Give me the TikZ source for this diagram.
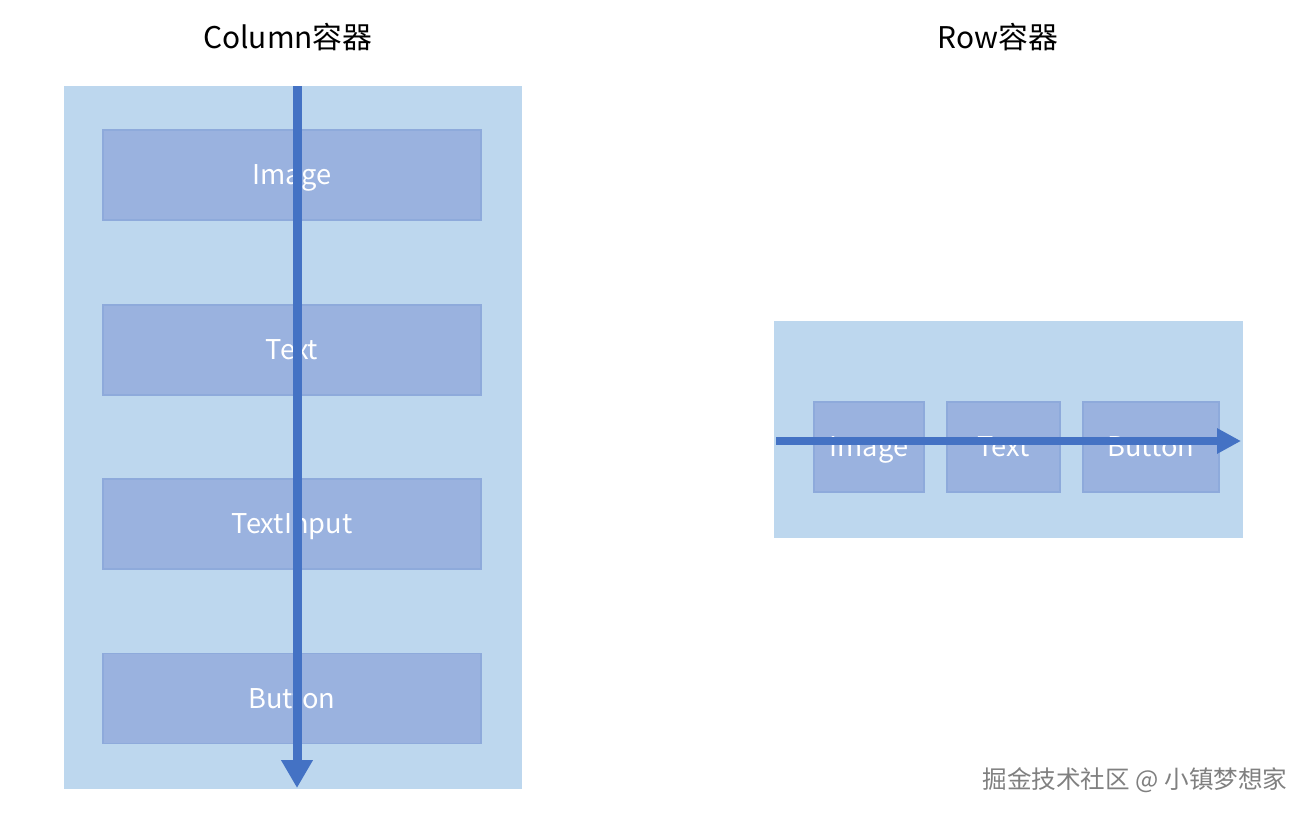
\documentclass[tikz,border=0pt]{standalone}
\usepackage{fontspec}
\setmainfont{Noto Sans CJK SC}
\usepackage{xcolor}
\usetikzlibrary{arrows.meta,positioning}

\definecolor{boxbg}{HTML}{BDD7EE}
\definecolor{itemfill}{HTML}{9AB2DF}
\definecolor{itemline}{HTML}{8EAADB}
\definecolor{flowblue}{HTML}{4472C4}

\begin{document}
\begin{tikzpicture}[
    x=0.02cm, y=-0.02cm,
    container/.style={rectangle, fill=boxbg, inner sep=0pt},
    item/.style={rectangle, draw=itemline, fill=itemfill, line width=0.6pt, inner sep=0pt, text=white, text height=11.2pt, text depth=0pt, font=\fontsize{15.5}{18}\selectfont},
    heading/.style={font=\fontsize{17}{20}\selectfont, text=black},
    flow/.style={draw=flowblue, line width=#1}
]
    \useasboundingbox (0,0) rectangle (1312,818);

    % Column container
    \node[heading] (coltitle) at (288,37) {Column容器};
    \node[container, minimum width=458*0.02cm, minimum height=703*0.02cm] (col) at (293,437.5) {};
    \node[item, minimum width=378*0.02cm, minimum height=90*0.02cm] (cimage) at (292,175) {Image};
    \node[item, minimum width=378*0.02cm, minimum height=90*0.02cm] (ctext) at (292,350) {Text};
    \node[item, minimum width=378*0.02cm, minimum height=90*0.02cm] (cinput) at (292,524) {TextInput};
    \node[item, minimum width=378*0.02cm, minimum height=90*0.02cm] (cbutton) at (292,698.5) {Button};
    \coordinate (colstart) at (297,86);
    \coordinate (colend) at (297,788);
    \draw[flow=0.18cm, -{Triangle[width=0.6cm, length=0.56cm]}] (colstart) -- (colend);

    % Row container
    \node[heading] (rowtitle) at (998,37) {Row容器};
    \node[container, minimum width=469*0.02cm, minimum height=217*0.02cm] (row) at (1008.5,429.5) {};
    \node[item, minimum width=110*0.02cm, minimum height=90*0.02cm] (rimage) at (869,447) {Image};
    \node[item, minimum width=113*0.02cm, minimum height=90*0.02cm] (rtext) at (1003.5,447) {Text};
    \node[item, minimum width=136*0.02cm, minimum height=90*0.02cm] (rbutton) at (1151,447) {Button};
    \coordinate (rowstart) at (776,441);
    \coordinate (rowend) at (1241,441);
    \draw[flow=0.16cm, -{Triangle[width=0.48cm, length=0.48cm]}] (rowstart) -- (rowend);

    % watermark
    \node[font=\fontsize{14}{16}\selectfont, text=gray] (mark) at (1135,780) {掘金技术社区 @ 小镇梦想家};
\end{tikzpicture}
\end{document}
